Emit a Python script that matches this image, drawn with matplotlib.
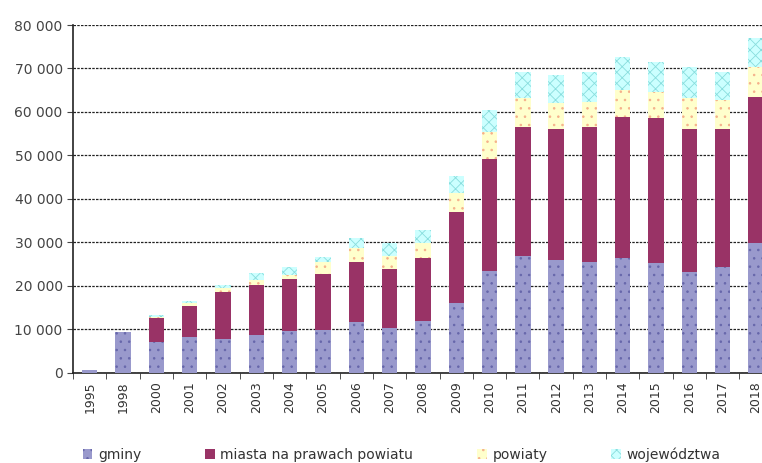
import numpy as np
import matplotlib
matplotlib.use("Agg")
import matplotlib.pyplot as plt
from matplotlib.ticker import FuncFormatter, MultipleLocator

# === Data ===
years = ['1995', '1998', '2000', '2001', '2002', '2003', '2004', '2005', '2006', '2007',
         '2008', '2009', '2010', '2011', '2012', '2013', '2014', '2015', '2016', '2017', '2018']
gminy = [600, 9400, 7100, 8300, 7700, 8700, 9600, 9800, 11700, 10200,
         12000, 16100, 23500, 26900, 25900, 25500, 26300, 25300, 23200, 24400, 29800]
miasta = [0, 0, 5400, 7050, 10900, 11500, 11900, 13000, 13800, 13600,
          14300, 20900, 25600, 29700, 30100, 31100, 32600, 33200, 32800, 31600, 33700]
powiaty = [0, 0, 400, 600, 800, 1150, 1000, 2700, 3300, 3100,
           3500, 4400, 6300, 6500, 6000, 5700, 6100, 6100, 7100, 6700, 6900]
wojewodztwa = [0, 0, 400, 500, 700, 1500, 1900, 1150, 2300, 2900,
               3000, 3800, 5000, 6100, 6500, 6900, 7700, 6900, 7300, 6500, 6500]

labels = ['gminy', 'miasta na prawach powiatu', 'powiaty', 'województwa']
series = [gminy, miasta, powiaty, wojewodztwa]
colors = ['#9999cc', '#993366', '#ffffcc', '#ccffff']
hatch_colors = ['#6666aa', '#aa4477', '#f5b08a', '#88dddd']
hatches = ['..', '', '..', 'xxx']

# === Plot ===
plt.rcParams['font.family'] = ['DejaVu Sans']
plt.rcParams['hatch.linewidth'] = 0.6

fig = plt.figure(figsize=(7.62, 4.63), dpi=100)
ax = fig.add_axes([0.096, 0.195, 0.918, 0.751])

x = np.arange(len(years))
bottom = np.zeros(len(years))
for vals, lab, c, hc, h in zip(series, labels, colors, hatch_colors, hatches):
    vals = np.array(vals, dtype=float)
    ax.bar(x, vals, 0.46, bottom=bottom, color=c, edgecolor=hc, hatch=h,
           linewidth=0, label=lab, zorder=3)
    bottom += vals

ax.set_xlim(-0.5, 20.5)
ax.set_ylim(0, 80000)
ax.yaxis.set_major_locator(MultipleLocator(10000))
ax.yaxis.set_major_formatter(FuncFormatter(lambda v, p: f'{int(v):,}'.replace(',', ' ')))
ax.grid(axis='y', color='#222222', linestyle=(0, (2, 1)), linewidth=0.9, zorder=0)

ax.set_xticks(x)
ax.set_xticklabels(years, rotation=90)
ax.set_xticks(np.arange(-0.5, 21, 1), minor=True)
ax.tick_params(axis='x', which='major', length=0, pad=6, labelsize=9, colors='#333333')
ax.tick_params(axis='x', which='minor', length=4, color='#333333')
ax.tick_params(axis='y', length=4, labelsize=10, colors='#444444')

for s in ['top', 'right']:
    ax.spines[s].set_visible(False)
for s in ['left', 'bottom']:
    ax.spines[s].set_color('#222222')
    ax.spines[s].set_linewidth(1.2)

fig.legend(loc='lower left', bbox_to_anchor=(0.092, -0.025), ncol=4, frameon=False,
           fontsize=10, handlelength=0.7, handleheight=0.7, handletextpad=0.4,
           columnspacing=4.6, labelcolor='#333333')

fig.savefig('out.png', dpi=100)
